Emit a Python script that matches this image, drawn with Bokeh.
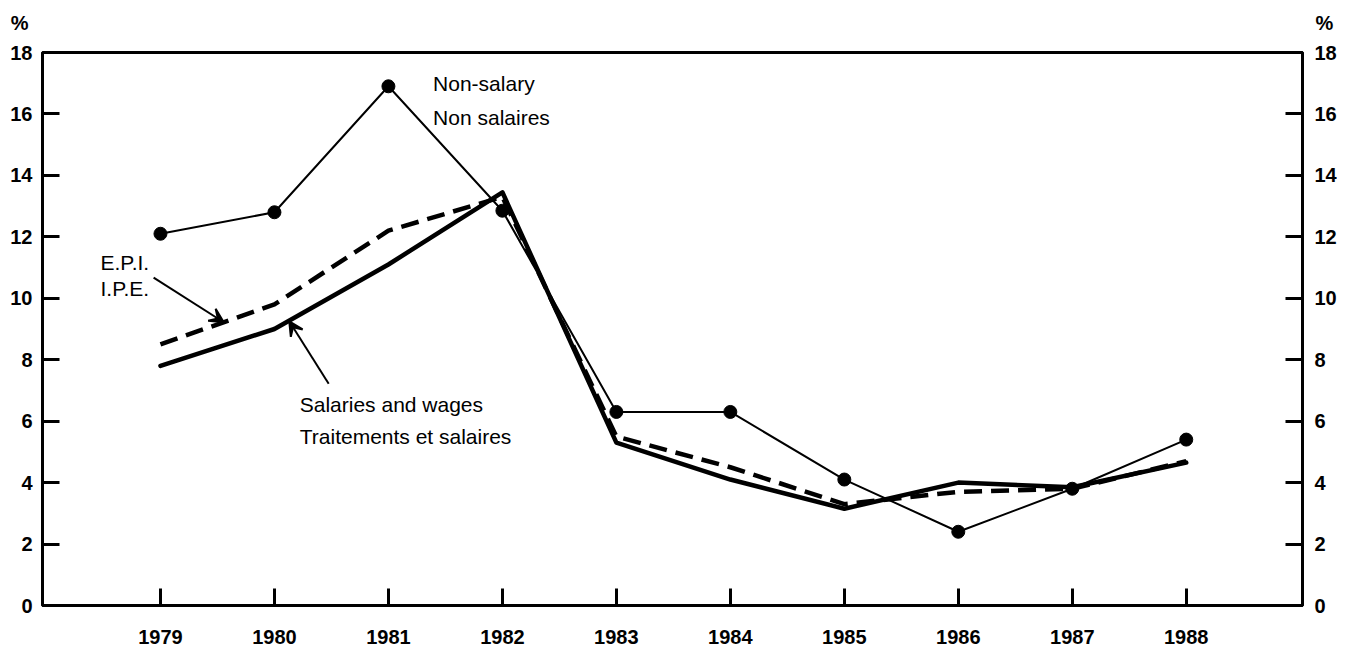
from bokeh.plotting import figure
from bokeh.layouts import column
from bokeh.models import Range1d, LinearAxis, FixedTicker, Label, Arrow, VeeHead, ColumnDataSource
from bokeh.embed import file_html
from bokeh.resources import INLINE

# ---- data ----
years = [1979, 1980, 1981, 1982, 1983, 1984, 1985, 1986, 1987, 1988]
non_salary = [12.1, 12.8, 16.9, 12.85, 6.3, 6.3, 4.1, 2.4, 3.8, 5.4]
epi = [8.5, 9.8, 12.2, 13.3, 5.5, 4.5, 3.3, 3.7, 3.8, 4.7]
salaries = [7.8, 9.0, 11.1, 13.45, 5.3, 4.1, 3.15, 4.0, 3.85, 4.65]
y_ticks = [0, 2, 4, 6, 8, 10, 12, 14, 16, 18]
x_tick_labels = {y: str(y) for y in years}
unit_label = "%"

FONT = "Liberation Sans"
TICK_FONT_SIZE = "20px"
NOTE_FONT_SIZE = "21px"

W = 1355
TOP_H = 34

src = ColumnDataSource(dict(year=years, non_salary=non_salary, epi=epi, salaries=salaries))

# ---- thin header strip carrying the "%" unit markers above both y axes ----
top = figure(width=W, height=TOP_H, x_range=Range1d(0, 1), y_range=Range1d(0, TOP_H),
             output_backend="svg", toolbar_location=None,
             min_border_left=42, min_border_right=53, min_border_top=0, min_border_bottom=0,
             background_fill_color="white", border_fill_color="white")
top.xaxis.visible = False
top.xgrid.visible = False
top.ygrid.visible = False
top.outline_line_color = None


def unit_axis(ax, standoff):
    ax.ticker = FixedTicker(ticks=[TOP_H - 22])
    ax.major_label_overrides = {TOP_H - 22: unit_label}
    ax.axis_line_color = None
    ax.major_tick_line_color = None
    ax.minor_tick_line_color = None
    ax.major_tick_in = 0
    ax.major_tick_out = 0
    ax.major_label_standoff = standoff
    ax.major_label_text_font = FONT
    ax.major_label_text_font_size = TICK_FONT_SIZE
    ax.major_label_text_font_style = "bold"
    ax.major_label_text_color = "black"


unit_axis(top.yaxis[0], 14)
top_right = LinearAxis()
unit_axis(top_right, 13)
top.add_layout(top_right, "right")

# ---- main chart ----
p = figure(width=W, height=647 - TOP_H,
           x_range=Range1d(1977.965, 1989.02), y_range=Range1d(0, 18),
           output_backend="svg", toolbar_location=None,
           min_border_left=42, min_border_right=53, min_border_top=52 - TOP_H, min_border_bottom=42,
           background_fill_color="white", border_fill_color="white")

p.xgrid.visible = False
p.ygrid.visible = False
p.outline_line_color = "black"
p.outline_line_width = 3
p.outline_line_alpha = 1.0


def style_axis(ax, standoff):
    ax.axis_line_width = 3
    ax.axis_line_color = "black"
    ax.major_tick_in = 17
    ax.major_tick_out = 0
    ax.major_tick_line_width = 3
    ax.major_tick_line_color = "black"
    ax.minor_tick_line_color = None
    ax.major_label_text_font = FONT
    ax.major_label_text_font_size = TICK_FONT_SIZE
    ax.major_label_text_font_style = "bold"
    ax.major_label_text_color = "black"
    ax.major_label_standoff = standoff


xa = p.xaxis[0]
xa.ticker = FixedTicker(ticks=years)
xa.major_label_overrides = x_tick_labels
style_axis(xa, 24)

ya = p.yaxis[0]
ya.ticker = FixedTicker(ticks=y_ticks)
style_axis(ya, 10)

yr = LinearAxis(ticker=FixedTicker(ticks=y_ticks))
style_axis(yr, 12)
p.add_layout(yr, "right")

# ---- series ----
p.line("year", "salaries", source=src, line_color="black", line_width=4.5,
       line_join="round", line_cap="round")
p.line("year", "epi", source=src, line_color="black", line_width=4.5,
       line_dash="18 9", line_join="round")
p.line("year", "non_salary", source=src, line_color="black", line_width=2)
p.scatter("year", "non_salary", source=src, size=13, marker="circle",
          fill_color="black", line_color="black")

# ---- annotations ----
def note(x, y, text):
    p.add_layout(Label(x=x, y=y, text=text, text_font=FONT, text_font_size=NOTE_FONT_SIZE,
                       text_align="left", text_baseline="middle", text_color="black"))

note(1981.392, 16.98, "Non-salary")
note(1981.392, 15.90, "Non salaires")
note(1978.474, 11.18, "E.P.I.")
note(1978.474, 10.31, "I.P.E.")
note(1980.222, 6.54, "Salaries and wages")
note(1980.222, 5.50, "Traitements et salaires")

p.add_layout(Arrow(x_start=1978.94, y_start=10.67, x_end=1979.555, y_end=9.22,
                   line_width=2, line_color="black",
                   end=VeeHead(size=14, fill_color="black", line_color="black", line_width=2)))
p.add_layout(Arrow(x_start=1980.476, y_start=7.22, x_end=1980.13, y_end=9.25,
                   line_width=2, line_color="black",
                   end=VeeHead(size=14, fill_color="black", line_color="black", line_width=2)))

layout = column(top, p, spacing=0)
open("out.html", "w").write(file_html(layout, INLINE))
